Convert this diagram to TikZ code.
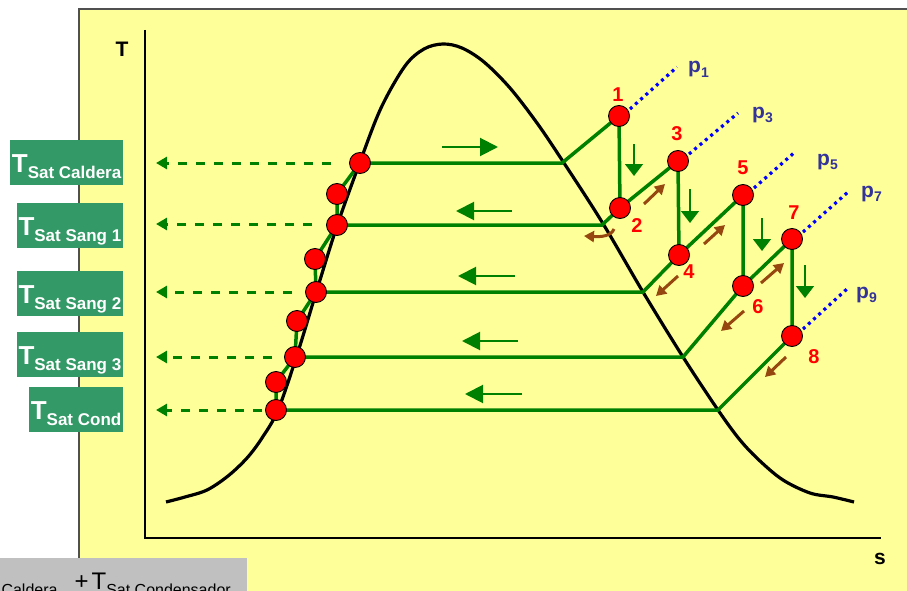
\documentclass[tikz,border=0pt]{standalone}
\usepackage{fontspec}
\setmainfont{Liberation Sans}
\usetikzlibrary{arrows.meta}
\definecolor{bgyel}{RGB}{255,255,153}
\definecolor{lgreen}{RGB}{0,128,0}
\definecolor{boxgreen}{RGB}{51,153,102}
\definecolor{brownarr}{RGB}{150,70,15}
\definecolor{pblue}{RGB}{51,51,153}
\definecolor{graybox}{RGB}{192,192,192}
\definecolor{framec}{RGB}{80,80,80}
\newcommand{\Tlab}[1]{{\fontsize{26}{26}\selectfont\bfseries T}\raisebox{-6pt}{\fontsize{17}{17}\selectfont\bfseries #1}}
\newcommand{\plab}[1]{p\raisebox{-4.5pt}{\fontsize{14}{14}\selectfont #1}}
\begin{document}
\begin{tikzpicture}[x=1pt,y=-1pt,
  gline/.style={lgreen, line width=3.5pt},
  domeline/.style={black, line width=3.2pt},
  ptc/.style={circle, fill=red, draw=black, line width=0.9pt, minimum size=21pt, inner sep=0pt},
  numlab/.style={text=red, font=\fontsize{20}{20}\selectfont\bfseries, inner sep=0pt},
  plabel/.style={text=pblue, font=\fontsize{21}{21}\selectfont\bfseries, anchor=base west, inner sep=0pt},
  isoline/.style={blue, line width=3.2pt, dash pattern=on 3pt off 4pt},
  flowarr/.style={lgreen, line width=2pt, -{Triangle[length=18pt,width=18pt]}},
  droparr/.style={lgreen, line width=1.6pt, -{Triangle[length=12pt,width=18pt]}},
  barr/.style={brownarr, line width=3pt, -{Triangle[length=10pt,width=11pt]}},
  dasharr/.style={lgreen, line width=3pt, dash pattern=on 9pt off 9pt, -{Triangle[length=11pt,width=12pt]}},
  boxlab/.style={fill=boxgreen, text=white, anchor=east, minimum height=45pt, inner xsep=1.5pt, inner ysep=0pt, text height=26pt, text depth=6pt},
  axlab/.style={font=\fontsize{21}{21}\selectfont\bfseries, inner sep=0pt}
]
\useasboundingbox (0,0) rectangle (907,591);
% background panel
\fill[white] (0,0) rectangle (907,591);
\draw[fill=bgyel, draw=framec, line width=1.5pt] (79,9) rectangle (912,600);
% axes
\draw[black, line width=2pt] (145,30) -- (145,538) -- (881,538);
\node[axlab] (Tax) at (122,49) {T};
\node[axlab] (sax) at (880,559) {s};
% dome
\draw[domeline] plot[smooth, tension=0.55] coordinates {(166,502) (185,497) (207,490) (228,476) (247,458) (262,438) (278,410) (297,355) (316,293) (337,226) (360,162) (381,108) (405,66) (424,49) (443,44) (462,48) (484,62) (510,88) (537,123) (562,160) (602,222) (643,292) (683,357) (718,410) (740,440) (760,461) (783,480) (810,493) (833,497) (854,502)};
% coordinates
\coordinate (c1) at (360,163);
\coordinate (c2) at (337,194);
\coordinate (c3) at (337,225);
\coordinate (c4) at (315,259);
\coordinate (c5) at (316,292);
\coordinate (c6) at (297,321);
\coordinate (c7) at (295,357);
\coordinate (c8) at (276,382);
\coordinate (c9) at (276,410);
\coordinate (d1) at (562,163);
\coordinate (d2) at (602,225);
\coordinate (d3) at (643,292);
\coordinate (d4) at (683,357);
\coordinate (d5) at (718,410);
\coordinate (r1) at (619,116);
\coordinate (r2) at (620,208);
\coordinate (r3) at (678,161);
\coordinate (r4) at (679,255);
\coordinate (r5) at (743,195);
\coordinate (r6) at (743,286);
\coordinate (r7) at (792,239);
\coordinate (r8) at (792,336);
% green process lines
\draw[gline] (c1) -- (c2) -- (c3) -- (c4) -- (c5) -- (c6) -- (c7) -- (c8) -- (c9);
\draw[gline] (c1) -- (d1) -- (r1) -- (r2);
\draw[gline] (c3) -- (d2) -- (r2) -- (r3) -- (r4);
\draw[gline] (c5) -- (d3) -- (r4) -- (r5) -- (r6);
\draw[gline] (c7) -- (d4) -- (r6) -- (r7) -- (r8);
\draw[gline] (c9) -- (d5) -- (r8);
% isobars
\coordinate (q1) at (677,67);
\coordinate (q3) at (738,113);
\coordinate (q5) at (795,152);
\coordinate (q7) at (848,192);
\coordinate (q9) at (848,288);
\draw[isoline] (r1) ++(11,-7) coordinate (e1) (e1) -- (q1);
\draw[isoline] (r3) ++(11,-7) coordinate (e3) (e3) -- (q3);
\draw[isoline] (r5) ++(11,-7) coordinate (e5) (e5) -- (q5);
\draw[isoline] (r7) ++(11,-7) coordinate (e7) (e7) -- (q7);
\draw[isoline] (r8) ++(11,-7) coordinate (e9) (e9) -- (q9);
\node[plabel] (p1) at (688,73) {\plab{1}};
\node[plabel] (p3) at (752,118) {\plab{3}};
\node[plabel] (p5) at (817,165) {\plab{5}};
\node[plabel] (p7) at (861,197) {\plab{7}};
\node[plabel] (p9) at (856,298) {\plab{9}};
% points
\foreach \n in {c1,c2,c3,c4,c5,c6,c7,c8,c9,r1,r2,r3,r4,r5,r6,r7,r8}
  \node[ptc] (P\n) at (\n) {};
% number labels
\node[numlab] (n1) at (618,95) {1};
\node[numlab] (n2) at (637,226) {2};
\node[numlab] (n3) at (677,134) {3};
\node[numlab] (n4) at (689,272) {4};
\node[numlab] (n5) at (743,168) {5};
\node[numlab] (n6) at (758,307) {6};
\node[numlab] (n7) at (794,213) {7};
\node[numlab] (n8) at (814,357) {8};
% flow arrows inside dome
\coordinate (f1a) at (442,147); \coordinate (f1b) at (498,147);
\coordinate (f2a) at (512,211); \coordinate (f2b) at (456,211);
\coordinate (f3a) at (515,276); \coordinate (f3b) at (458,276);
\coordinate (f4a) at (518,341); \coordinate (f4b) at (462,341);
\coordinate (f5a) at (522,394); \coordinate (f5b) at (465,394);
\draw[flowarr] (f1a) -- (f1b);
\draw[flowarr] (f2a) -- (f2b);
\draw[flowarr] (f3a) -- (f3b);
\draw[flowarr] (f4a) -- (f4b);
\draw[flowarr] (f5a) -- (f5b);
% down arrows
\coordinate (g1a) at (634,144); \coordinate (g1b) at (634,176);
\coordinate (g2a) at (690,189); \coordinate (g2b) at (690,223);
\coordinate (g3a) at (762,218); \coordinate (g3b) at (762,251);
\coordinate (g4a) at (805,265); \coordinate (g4b) at (805,298);
\draw[droparr] (g1a) -- (g1b);
\draw[droparr] (g2a) -- (g2b);
\draw[droparr] (g3a) -- (g3b);
\draw[droparr] (g4a) -- (g4b);
% brown arrows
\coordinate (b1a) at (644,204); \coordinate (b1b) at (665,184);
\coordinate (b2a) at (614,229); \coordinate (b2b) at (584,236);
\coordinate (b3a) at (704,244); \coordinate (b3b) at (725,225);
\coordinate (b4a) at (678,276); \coordinate (b4b) at (656,296);
\coordinate (b5a) at (761,283); \coordinate (b5b) at (784,263);
\coordinate (b6a) at (744,311); \coordinate (b6b) at (721,331);
\coordinate (b7a) at (786,357); \coordinate (b7b) at (765,377);
\draw[barr] (b1a) -- (b1b);
\draw[barr] (b2a) .. controls (611,236) and (602,237) .. (b2b);
\draw[barr] (b3a) -- (b3b);
\draw[barr] (b4a) -- (b4b);
\draw[barr] (b5a) -- (b5b);
\draw[barr] (b6a) -- (b6b);
\draw[barr] (b7a) -- (b7b);
% dashed arrows to labels
\coordinate (s1) at (331,163); \coordinate (t1) at (156,163);
\coordinate (s3) at (312,224); \coordinate (t3) at (156,224);
\coordinate (s5) at (292,292); \coordinate (t5) at (156,292);
\coordinate (s7) at (272,357); \coordinate (t7) at (156,357);
\coordinate (s9) at (262,410); \coordinate (t9) at (156,410);
\draw[dasharr] (s1) -- (t1);
\draw[dasharr] (s3) -- (t3);
\draw[dasharr] (s5) -- (t5);
\draw[dasharr] (s7) -- (t7);
\draw[dasharr] (s9) -- (t9);
% labels
\node[boxlab] (L1) at (123,162) {\Tlab{Sat Caldera}};
\node[boxlab] (L2) at (123,225.5) {\Tlab{Sat Sang 1}};
\node[boxlab] (L3) at (123,293.5) {\Tlab{Sat Sang 2}};
\node[boxlab] (L4) at (123,354.5) {\Tlab{Sat Sang 3}};
\node[boxlab] (L5) at (123,409.5) {\Tlab{Sat Cond}};
% bottom gray box
\fill[graybox] (-5,558) rectangle (247,600);
\node[anchor=base east, inner sep=0pt] (formula) at (231,589) {{\fontsize{24}{24}\selectfont T}\raisebox{-6.5pt}{\fontsize{16}{16}\selectfont Sat Caldera}\hspace{17pt}{\fontsize{24}{24}\selectfont +}\hspace{3pt}{\fontsize{24}{24}\selectfont T}\raisebox{-6.5pt}{\fontsize{16}{16}\selectfont Sat Condensador}};
\end{tikzpicture}
\end{document}
